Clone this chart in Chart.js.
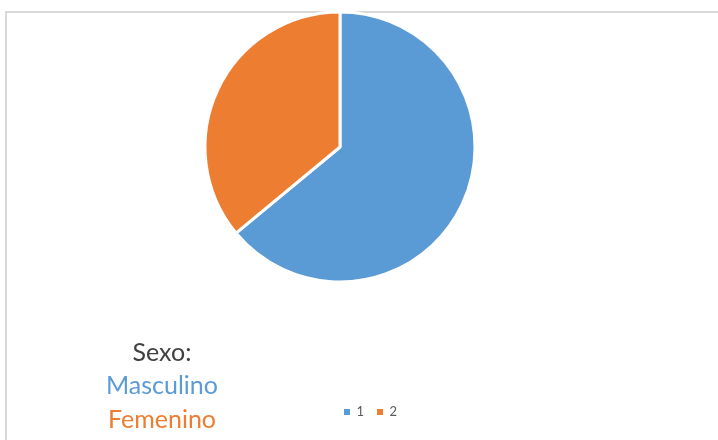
<!DOCTYPE html>
<html>
<head>
<meta charset="utf-8">
<script src="https://cdn.jsdelivr.net/npm/chart.js@4/dist/chart.umd.min.js"></script>
<style>
  html, body { margin: 0; padding: 0; background: #fff; }
  #wrap { position: relative; width: 718px; height: 440px; overflow: hidden; }
  #frame {
    position: absolute; left: 5px; top: 11px; width: 740px; height: 460px;
    border-top: 2px solid #d9d9d9; border-left: 2px solid #d9d9d9;
  }
  #pie { position: absolute; left: 0; top: 0; }
  .note {
    position: absolute; left: 62px; width: 200px; text-align: center;
    font-family: Lato, sans-serif; font-size: 25px; line-height: 34px;
  }
</style>
</head>
<body>
<div id="wrap">
  <div id="frame"></div>
  <canvas id="pie" width="718" height="440"></canvas>
  <div class="note" style="top:334px;color:#404040">Sexo:</div>
  <div class="note" style="top:367px;color:#5b9bd5">Masculino</div>
  <div class="note" style="top:401px;color:#ed7d31">Femenino</div>
</div>
<script>
const labels = ["1", "2"];
const values = [64, 36];
const colors = ["#5b9bd5", "#ed7d31"];

// where the small legend row sits (left of first swatch, swatch centre y)
const legendX = 344;
const legendY = 412;
const legendFont = 13;
const legendPad = 13;

const moveLegend = {
  id: "moveLegend",
  afterLayout(chart) {
    const lg = chart.legend;
    const w = lg.right - lg.left;
    const h = lg.bottom - lg.top;
    lg.left = legendX - legendPad;
    lg.right = lg.left + w;
    lg.top = legendY - legendPad - legendFont / 2;
    lg.bottom = lg.top + h;
  }
};

const defaultLabels = Chart.overrides.pie.plugins.legend.labels.generateLabels;

new Chart(document.getElementById("pie"), {
  type: "pie",
  data: {
    labels,
    datasets: [{
      data: values,
      backgroundColor: colors,
      borderColor: "#ffffff",
      borderWidth: 3,
      radius: 135
    }]
  },
  options: {
    responsive: false,
    animation: false,
    layout: { padding: { left: 200, right: 238, top: 0, bottom: 110 } },
    plugins: {
      tooltip: { enabled: false },
      legend: {
        position: "bottom",
        align: "start",
        labels: {
          boxWidth: 6,
          boxHeight: 6,
          padding: legendPad,
          color: "#595959",
          font: { family: "Lato, sans-serif", size: legendFont },
          // plain swatches, without the white slice outline
          generateLabels(chart) {
            return defaultLabels(chart).map(item => ({ ...item, lineWidth: 0 }));
          }
        }
      }
    }
  },
  plugins: [moveLegend]
});
</script>
</body>
</html>
